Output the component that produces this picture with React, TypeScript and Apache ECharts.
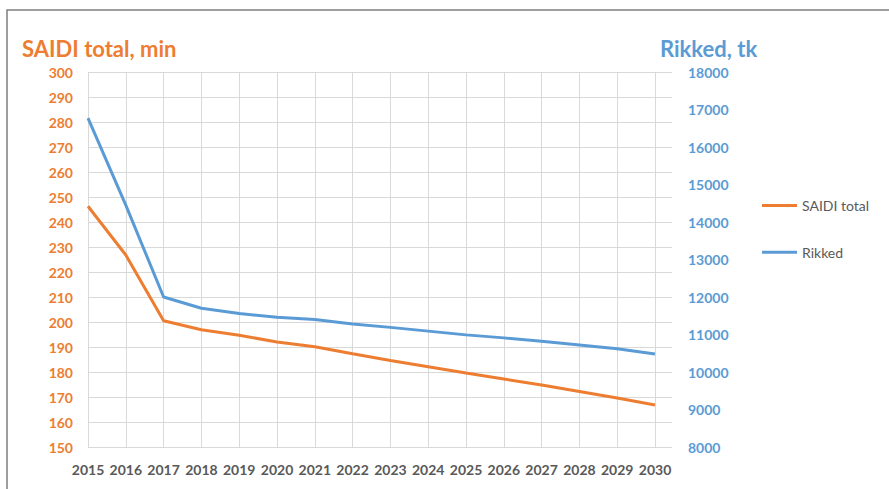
import React, { useEffect, useRef } from "react";
import * as echarts from "echarts";

const years = ["2015","2016","2017","2018","2019","2020","2021","2022","2023","2024","2025","2026","2027","2028","2029","2030"];
const saidi = [246.3, 226.8, 200.5, 196.9, 194.7, 192.0, 190.1, 187.3, 184.6, 182.1, 179.6, 177.2, 174.8, 172.2, 169.6, 166.8];
const rikked = [16770, 14450, 12000, 11700, 11560, 11460, 11400, 11280, 11190, 11090, 10990, 10910, 10820, 10720, 10620, 10480];

const ORANGE = "#ED7D31";
const BLUE = "#5B9BD5";
const FONT = "Lato";

export default function App() {
  const ref = useRef<HTMLDivElement>(null);
  useEffect(() => {
    if (!ref.current) return;
    const chart = echarts.init(ref.current, undefined, { renderer: "svg" });
    const legendCommon = {
      orient: "vertical",
      left: 762,
      padding: 0,
      icon: "rect",
      itemWidth: 35,
      itemHeight: 3,
      itemGap: 4,
      textStyle: { color: "#595959", fontSize: 14, fontFamily: FONT },
    };
    chart.setOption({
      animation: false,
      backgroundColor: "#ffffff",
      grid: [
        { left: 88, top: 72, width: 567, height: 375 },
        { left: 88, top: 72, width: 584, height: 375 },
      ],
      legend: [
        { ...legendCommon, top: 198.5, data: ["SAIDI total"] },
        { ...legendCommon, top: 245.3, data: ["Rikked"] },
      ],
      xAxis: [
        {
          type: "category",
          gridIndex: 0,
          data: years,
          boundaryGap: false,
          axisLine: { show: false },
          axisTick: { show: false },
          splitLine: { show: true, lineStyle: { color: "#d9d9d9", width: 1 } },
          axisLabel: { color: "#595959", fontWeight: "bold", fontSize: 14, fontFamily: FONT, margin: 15, interval: 0 },
        },
        { type: "value", gridIndex: 1, min: 0, max: 1, show: false },
      ],
      yAxis: [
        {
          type: "value",
          gridIndex: 0,
          min: 150,
          max: 300,
          interval: 10,
          position: "left",
          axisLine: { show: false },
          axisTick: { show: false },
          splitLine: { show: false },
          axisLabel: { color: ORANGE, fontWeight: "bold", fontSize: 14, fontFamily: FONT, margin: 15 },
        },
        {
          type: "value",
          gridIndex: 0,
          min: 8000,
          max: 18000,
          interval: 1000,
          position: "right",
          axisLine: { show: false },
          axisTick: { show: false },
          splitLine: { show: false },
          axisLabel: {
            color: BLUE,
            fontWeight: "bold",
            fontSize: 14,
            fontFamily: FONT,
            margin: 33,
            formatter: (v: number) => String(v),
          },
        },
        {
          type: "value",
          gridIndex: 1,
          min: 150,
          max: 300,
          interval: 10,
          axisLine: { show: false },
          axisTick: { show: false },
          axisLabel: { show: false },
          splitLine: { show: true, lineStyle: { color: "#d9d9d9", width: 1 } },
        },
      ],
      series: [
        {
          name: "SAIDI total",
          type: "line",
          xAxisIndex: 0,
          yAxisIndex: 0,
          data: saidi,
          symbol: "none",
          color: ORANGE,
          lineStyle: { color: ORANGE, width: 3 },
        },
        {
          name: "Rikked",
          type: "line",
          xAxisIndex: 0,
          yAxisIndex: 1,
          data: rikked,
          symbol: "none",
          color: BLUE,
          lineStyle: { color: BLUE, width: 3 },
        },
      ],
      graphic: [
        {
          type: "rect",
          shape: { x: 7, y: 10, width: 1000, height: 600 },
          style: { fill: "none", stroke: "#7f7f7f", lineWidth: 1.5 },
          silent: true,
        },
        {
          type: "text",
          x: 22,
          y: 48,
          style: { text: "SAIDI total, min", fill: ORANGE, fontSize: 22, fontWeight: "bold", fontFamily: FONT, verticalAlign: "middle" },
        },
        {
          type: "text",
          x: 660,
          y: 48,
          style: { text: "Rikked, tk", fill: BLUE, fontSize: 22, fontWeight: "bold", fontFamily: FONT, verticalAlign: "middle" },
        },
      ],
    });
    return () => chart.dispose();
  }, []);
  return <div ref={ref} style={{ position: "absolute", left: 0, top: 0, width: 889, height: 489 }} />;
}
